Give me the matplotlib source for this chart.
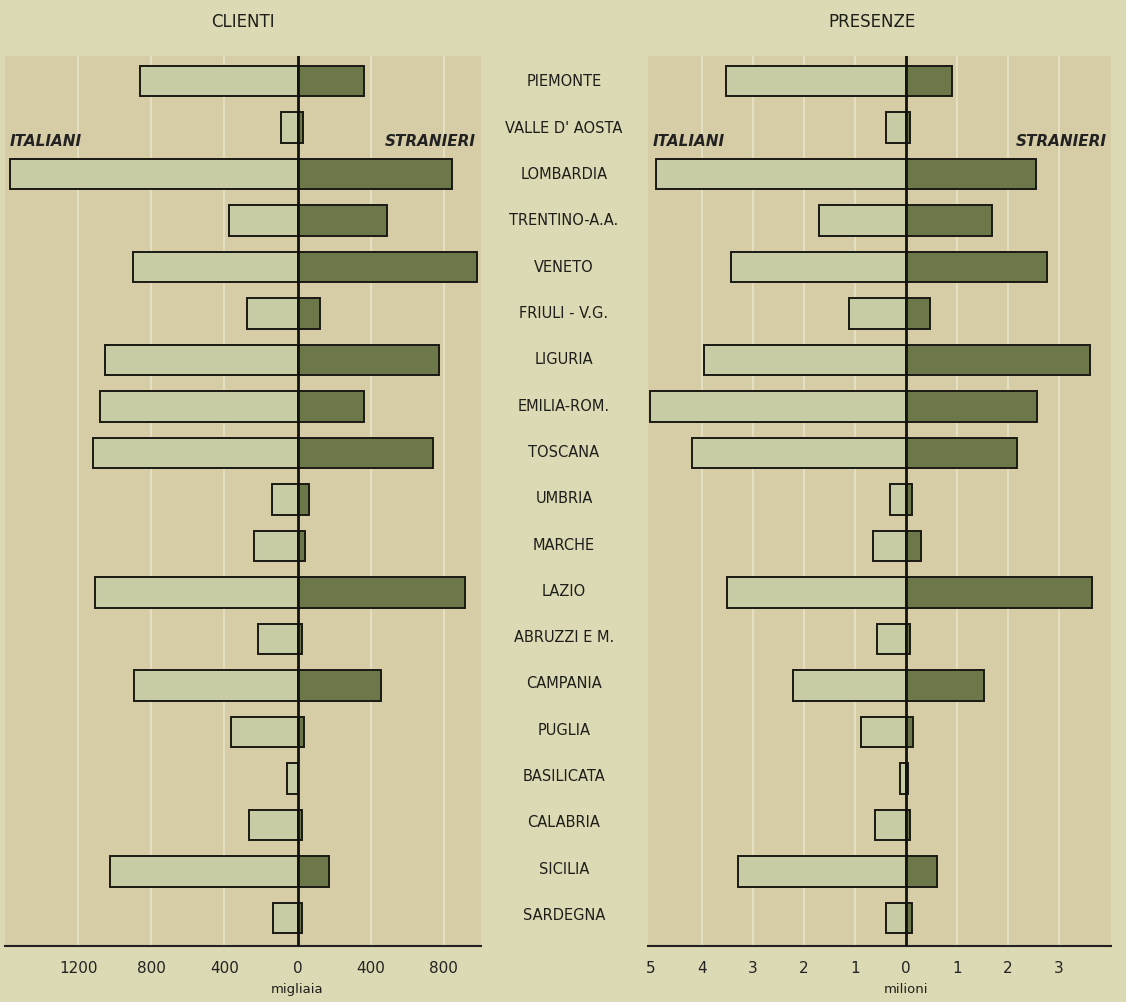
import numpy as np
import matplotlib.pyplot as plt

# Dati
regioni = ["PIEMONTE", "VALLE D' AOSTA", "LOMBARDIA", "TRENTINO-A.A.", "VENETO",
           "FRIULI - V.G.", "LIGURIA", "EMILIA-ROM.", "TOSCANA", "UMBRIA",
           "MARCHE", "LAZIO", "ABRUZZI E M.", "CAMPANIA", "PUGLIA",
           "BASILICATA", "CALABRIA", "SICILIA", "SARDEGNA"]

# Clienti (migliaia)
clienti_italiani = [860, 88, 1573, 373, 899, 274, 1052, 1079, 1118, 142,
                    241, 1107, 214, 893, 362, 60, 263, 1025, 137]
clienti_stranieri = [362, 27, 844, 488, 981, 120, 773, 362, 740, 60,
                     38, 915, 22, 455, 33, 5, 22, 170, 22]

# Presenze (milioni)
presenze_italiani = [3.53, 0.39, 4.90, 1.71, 3.43, 1.12, 3.96, 5.02, 4.20, 0.31,
                     0.65, 3.51, 0.57, 2.22, 0.88, 0.12, 0.61, 3.29, 0.39]
presenze_stranieri = [0.90, 0.08, 2.55, 1.69, 2.76, 0.47, 3.61, 2.57, 2.18, 0.12,
                      0.29, 3.65, 0.08, 1.53, 0.14, 0.04, 0.08, 0.61, 0.12]

clienti_ticks = [-1200, -800, -400, 0, 400, 800]
clienti_ticklabels = ["1200", "800", "400", "0", "400", "800"]
presenze_ticks = [-5, -4, -3, -2, -1, 0, 1, 2, 3]
presenze_ticklabels = ["5", "4", "3", "2", "1", "0", "1", "2", "3"]

# Colori
PAGE = "#dcdab4"
PANEL = "#d6cda6"
LIGHT = "#c8cca4"
DARK = "#6c774a"

plt.rcParams['font.family'] = ['DejaVu Sans']

fig = plt.figure(figsize=(11.26, 10.03), dpi=100, facecolor=PAGE)
W, H = 1126, 1003

def box(x0, x1, y0, y1):
    return [x0 / W, 1 - y1 / H, (x1 - x0) / W, (y1 - y0) / H]

ax1 = fig.add_axes(box(5, 481, 57, 947))
ax2 = fig.add_axes(box(648, 1111, 57, 947))

y = np.arange(len(regioni))

def pannello(ax, ita, stra, xlim, ticks, ticklabels, grid):
    ax.set_facecolor(PANEL)
    for g in grid:
        ax.axvline(g, color="#e6e2c4", lw=1.3, zorder=0)
    ax.barh(y, [-v for v in ita], height=0.66, color=LIGHT,
            edgecolor="#1a1a14", linewidth=1.4, zorder=2)
    ax.barh(y, stra, height=0.66, color=DARK,
            edgecolor="#1a1a14", linewidth=1.4, zorder=2)
    ax.axvline(0, color="#111111", lw=2, zorder=3)
    ax.set_xlim(*xlim)
    ax.set_ylim(18.6, -0.54)
    ax.set_yticks([])
    ax.set_xticks(ticks)
    ax.set_xticklabels(ticklabels, fontsize=11, color="#222222")
    ax.tick_params(axis="x", length=0, pad=10)
    for s in ["top", "left", "right"]:
        ax.spines[s].set_visible(False)
    ax.spines["bottom"].set_linewidth(1.5)
    ax.spines["bottom"].set_color("#222222")

pannello(ax1, clienti_italiani, clienti_stranieri, (-1600, 1003),
         clienti_ticks, clienti_ticklabels, [-1200, -800, -400, 400, 800])
pannello(ax2, presenze_italiani, presenze_stranieri, (-5.06, 4.02),
         presenze_ticks, presenze_ticklabels, [-4, -3, -2, -1, 1, 2, 3])

# Etichette italiani / stranieri
for ax in (ax1, ax2):
    ax.text(0.01, 1.27, "ITALIANI", transform=ax.get_yaxis_transform(),
            fontsize=11, fontstyle="italic", fontweight="semibold",
            color="#222222", ha="left", va="center")
    ax.text(0.99, 1.27, "STRANIERI", transform=ax.get_yaxis_transform(),
            fontsize=11, fontstyle="italic", fontweight="semibold",
            color="#222222", ha="right", va="center")

# Nomi delle regioni al centro
for i, nome in enumerate(regioni):
    fig.text(564 / W, 1 - (82 + 46.3 * i) / H, nome, fontsize=10.5,
             color="#1e1e1a", ha="center", va="center")

fig.text(243 / W, 1 - 22 / H, "CLIENTI", fontsize=12, color="#1e1e1a",
         ha="center", va="center")
fig.text(872 / W, 1 - 22 / H, "PRESENZE", fontsize=12, color="#1e1e1a",
         ha="center", va="center")
fig.text(297 / W, 1 - 990 / H, "migliaia", fontsize=9.5, color="#1e1e1a",
         ha="center", va="center")
fig.text(906 / W, 1 - 990 / H, "milioni", fontsize=9.5, color="#1e1e1a",
         ha="center", va="center")

fig.savefig("out.png", dpi=100, facecolor=PAGE)
